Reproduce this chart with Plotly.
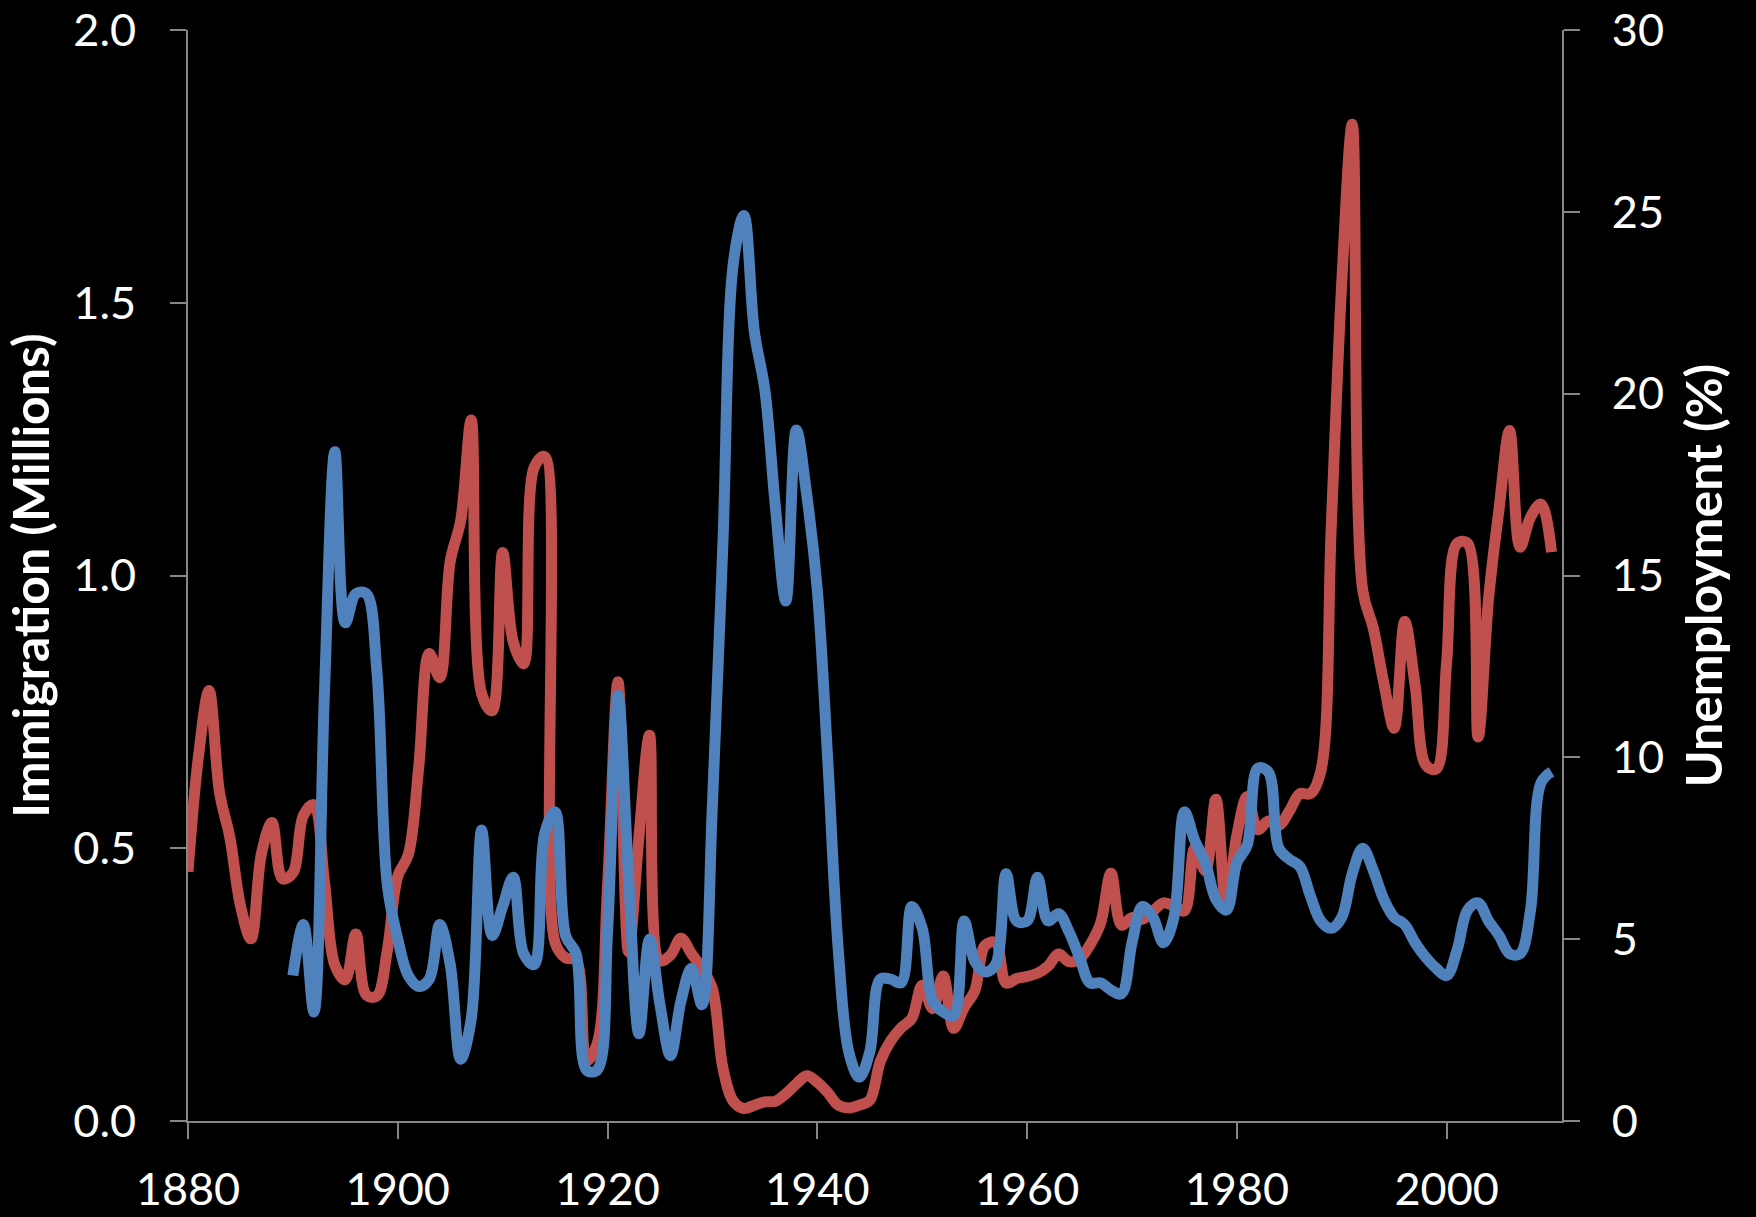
import plotly.graph_objects as go

# US annual immigration (millions), 1880-2010
imm_years = list(range(1880, 2011))
immigration = [
    0.457, 0.669, 0.789, 0.603, 0.519, 0.395, 0.334, 0.490, 0.547, 0.444,  # 1880s
    0.455, 0.560, 0.580, 0.440, 0.286, 0.259, 0.343, 0.231, 0.229, 0.312,  # 1890s
    0.449, 0.488, 0.649, 0.857, 0.813, 1.026, 1.101, 1.285, 0.783, 0.752,  # 1900s
    1.042, 0.879, 0.838, 1.198, 1.218, 0.327, 0.299, 0.295, 0.111, 0.141,  # 1910s
    0.430, 0.805, 0.310, 0.523, 0.707, 0.294, 0.304, 0.335, 0.307, 0.280,  # 1920s
    0.242, 0.097, 0.036, 0.023, 0.029, 0.035, 0.036, 0.050, 0.068, 0.083,  # 1930s
    0.071, 0.052, 0.029, 0.024, 0.029, 0.038, 0.109, 0.147, 0.171, 0.188,  # 1940s
    0.249, 0.206, 0.266, 0.170, 0.208, 0.238, 0.322, 0.327, 0.253, 0.261,  # 1950s
    0.265, 0.271, 0.284, 0.306, 0.292, 0.297, 0.323, 0.362, 0.454, 0.359,  # 1960s
    0.373, 0.370, 0.385, 0.400, 0.394, 0.385, 0.500, 0.459, 0.590, 0.394,  # 1970s
    0.524, 0.595, 0.534, 0.550, 0.542, 0.568, 0.600, 0.600, 0.641, 1.090,  # 1980s
    1.536, 1.827, 0.973, 0.904, 0.804, 0.720, 0.916, 0.798, 0.653, 0.645,  # 1990s
    0.841, 1.059, 1.059, 0.704, 0.958, 1.122, 1.266, 1.052, 1.107, 1.131,  # 2000s
    1.043,                                                                  # 2010
]

# US unemployment rate (%), 1890-2010
unemp_years = list(range(1890, 2011))
unemployment = [
    4.0, 5.4, 3.0, 11.7, 18.4, 13.7, 14.5, 14.5, 12.4, 6.5,   # 1890s
    5.0, 4.0, 3.7, 3.9, 5.4, 4.3, 1.7, 2.8, 8.0, 5.1,         # 1900s
    5.9, 6.7, 4.6, 4.3, 7.9, 8.5, 5.1, 4.6, 1.4, 1.4,         # 1910s
    5.2, 11.7, 6.7, 2.4, 5.0, 3.2, 1.8, 3.3, 4.2, 3.2,        # 1920s
    8.7, 15.9, 23.6, 24.9, 21.7, 20.1, 16.9, 14.3, 19.0, 17.2, # 1930s
    14.6, 9.9, 4.7, 1.9, 1.2, 1.9, 3.9, 3.9, 3.8, 5.9,        # 1940s
    5.3, 3.3, 3.0, 2.9, 5.5, 4.4, 4.1, 4.3, 6.8, 5.5,         # 1950s
    5.5, 6.7, 5.5, 5.7, 5.2, 4.5, 3.8, 3.8, 3.6, 3.5,         # 1960s
    4.9, 5.9, 5.6, 4.9, 5.6, 8.5, 7.7, 7.1, 6.1, 5.8,         # 1970s
    7.1, 7.6, 9.7, 9.6, 7.5, 7.2, 7.0, 6.2, 5.5, 5.3,         # 1980s
    5.6, 6.8, 7.5, 6.9, 6.1, 5.6, 5.4, 4.9, 4.5, 4.2,         # 1990s
    4.0, 4.7, 5.8, 6.0, 5.5, 5.1, 4.6, 4.6, 5.8, 9.3,         # 2000s
    9.6,                                                       # 2010
]

x_ticks = [1880, 1900, 1920, 1940, 1960, 1980, 2000]
left_ticks = [0.0, 0.5, 1.0, 1.5, 2.0]
right_ticks = [0, 5, 10, 15, 20, 25, 30]

RED = "#C0504D"
BLUE = "#4F81BD"
AXIS = "#868686"
FONT = "Lato"

fig = go.Figure()

fig.add_trace(go.Scatter(
    x=imm_years, y=immigration, name="Immigration",
    mode="lines", line=dict(color=RED, width=11, shape="spline", smoothing=1.0),
    yaxis="y",
))
fig.add_trace(go.Scatter(
    x=unemp_years, y=unemployment, name="Unemployment",
    mode="lines", line=dict(color=BLUE, width=11, shape="spline", smoothing=1.0),
    yaxis="y2",
))

common = dict(
    showgrid=False, zeroline=False, showline=True, automargin=False,
    linecolor=AXIS, linewidth=1.6,
    ticks="outside", ticklen=16, tickwidth=1.6, tickcolor=AXIS,
    tickfont=dict(family=FONT, size=45, color="white"),
)

fig.update_layout(
    width=1756, height=1217,
    margin=dict(l=188, r=194, t=30, b=96),
    paper_bgcolor="black", plot_bgcolor="black",
    showlegend=False,
    xaxis=dict(
        range=[1880, 2011], tickvals=x_ticks,
        ticklabelstandoff=12,
        **common,
    ),
    yaxis=dict(
        range=[0, 2.0], tickvals=left_ticks, tickformat=".1f",
        ticklabelstandoff=25,
        title=dict(text="<b>Immigration (Millions)</b>",
                   font=dict(family=FONT, size=50, color="white"), standoff=8),
        **common,
    ),
    yaxis2=dict(
        range=[0, 30], tickvals=right_ticks,
        overlaying="y", side="right",
        ticklabelstandoff=23,
        title=dict(text="<b>Unemployment (%)</b>",
                   font=dict(family=FONT, size=50, color="white"), standoff=24),
        **common,
    ),
)

fig.write_html("out.html")
